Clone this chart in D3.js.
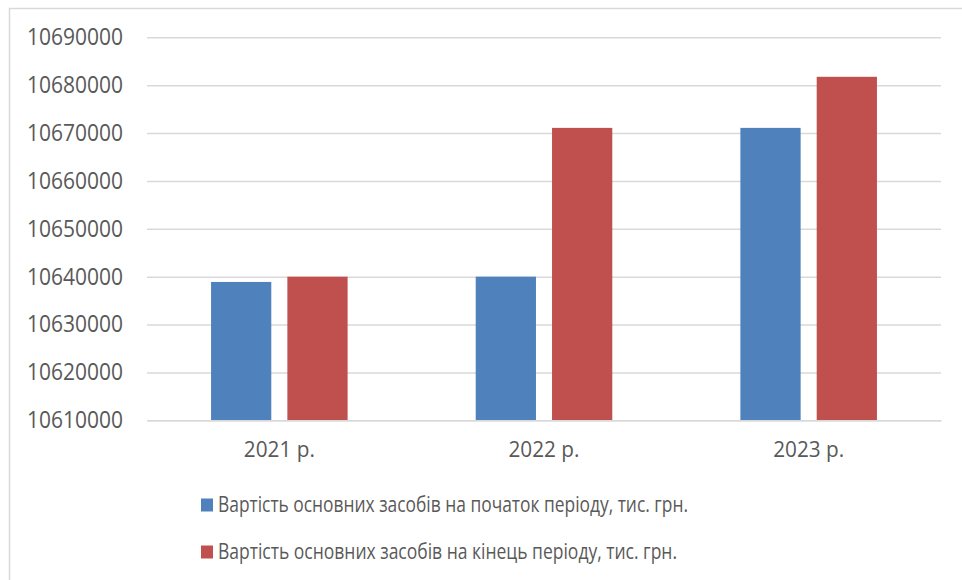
<!DOCTYPE html>
<html>
<head>
<meta charset="utf-8">
<script src="https://cdn.jsdelivr.net/npm/d3@7"></script>
<style>
  html, body { margin: 0; padding: 0; background: #fff; }
  svg { display: block; }
  svg text { font-family: "Open Sans", "Noto Sans", sans-serif; }
</style>
</head>
<body>
<svg id="chart" width="962" height="580"></svg>
<script>
// Years and series of fixed-asset values (thousand UAH)
const years = ["2021 р.", "2022 р.", "2023 р."];
const seriesNames = [
  "Вартість основних засобів на початок періоду, тис. грн.",
  "Вартість основних засобів на кінець періоду, тис. грн."
];
const startValues = [10638900, 10640000, 10671080];
const endValues = [10640000, 10671080, 10681750];
const yTicks = [10610000, 10620000, 10630000, 10640000, 10650000, 10660000, 10670000, 10680000, 10690000];
const colors = ["#4F81BD", "#C0504D"];
const fontFamily = "'Open Sans', 'Noto Sans', sans-serif";

const svg = d3.select("#chart");

// outer chart frame
svg.append("rect")
  .attr("x", 9.5).attr("y", 8.5)
  .attr("width", 970).attr("height", 600)
  .attr("fill", "#fff")
  .attr("stroke", "#d9d9d9").attr("stroke-width", 1.5);

const plot = { left: 147, right: 941, top: 37.3, bottom: 420.3 };

const y = d3.scaleLinear()
  .domain([yTicks[0], yTicks[yTicks.length - 1]])
  .range([plot.bottom, plot.top]);

const x0 = d3.scaleBand()
  .domain(years)
  .range([plot.left, plot.right])
  .padding(0);

const groupPad = x0.bandwidth() * 0.242;
const x1 = d3.scaleBand()
  .domain(d3.range(seriesNames.length))
  .range([groupPad, x0.bandwidth() - groupPad])
  .paddingInner(0.2105)
  .paddingOuter(0);

// value axis with horizontal gridlines
const yAxis = svg.append("g")
  .attr("transform", `translate(${plot.left},0)`)
  .call(d3.axisLeft(y)
    .tickValues(yTicks)
    .tickSize(-(plot.right - plot.left))
    .tickPadding(24)
    .tickFormat(d3.format("d")))
  .attr("font-family", fontFamily);
yAxis.select(".domain").remove();
yAxis.selectAll(".tick line")
  .attr("stroke", "#d9d9d9").attr("stroke-width", 1.5);
yAxis.selectAll(".tick text")
  .attr("fill", "#595959")
  .attr("font-size", 23)
  .attr("textLength", 96)
  .attr("lengthAdjust", "spacingAndGlyphs");

// bars
const rows = years.map((yr, i) => ({ year: yr, values: [startValues[i], endValues[i]] }));
svg.append("g")
  .selectAll("g")
  .data(rows)
  .join("g")
  .attr("transform", d => `translate(${x0(d.year)},0)`)
  .selectAll("rect")
  .data(d => d.values.map((v, k) => ({ k, v })))
  .join("rect")
  .attr("x", d => x1(d.k))
  .attr("width", x1.bandwidth())
  .attr("y", d => y(d.v))
  .attr("height", d => y(yTicks[0]) - y(d.v))
  .attr("fill", d => colors[d.k]);

// category axis
const xAxis = svg.append("g")
  .attr("transform", `translate(0,${plot.bottom})`)
  .call(d3.axisBottom(x0).tickSize(0).tickPadding(21))
  .attr("font-family", fontFamily);
xAxis.select(".domain")
  .attr("stroke", "#d9d9d9").attr("stroke-width", 1.5);
xAxis.selectAll(".tick text")
  .attr("fill", "#595959")
  .attr("font-size", 22.5)
  .attr("textLength", 71)
  .attr("lengthAdjust", "spacingAndGlyphs");

// legend
const legendWidths = [470, 459];
const legend = svg.append("g")
  .attr("font-family", fontFamily)
  .selectAll("g")
  .data(seriesNames)
  .join("g")
  .attr("transform", (d, i) => `translate(201,${505 + i * 47})`);
legend.append("rect")
  .attr("x", 0).attr("y", -6.5)
  .attr("width", 12).attr("height", 13)
  .attr("fill", (d, i) => colors[i]);
legend.append("text")
  .attr("x", 17)
  .attr("dy", "0.35em")
  .attr("fill", "#595959")
  .attr("font-size", 21)
  .attr("textLength", (d, i) => legendWidths[i])
  .attr("lengthAdjust", "spacingAndGlyphs")
  .text(d => d);
</script>
</body>
</html>
